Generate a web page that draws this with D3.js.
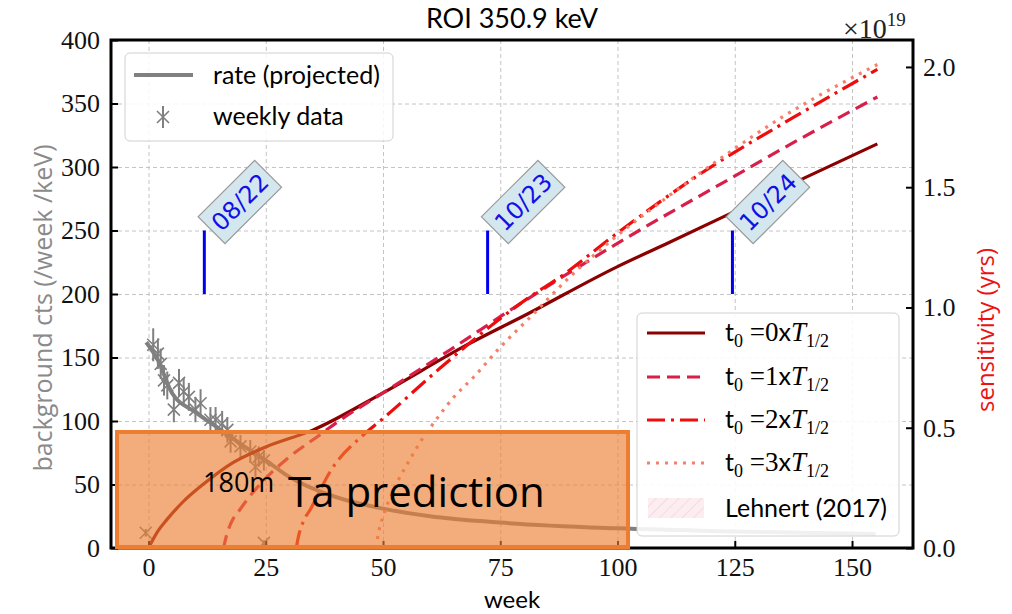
<!DOCTYPE html>
<html>
<head>
<meta charset="utf-8">
<script src="https://cdn.jsdelivr.net/npm/d3@7"></script>
<style>
    body { margin: 0; background: #fff; }
    svg { display: block; }
    .tick text { font-family: "Liberation Serif", serif; font-size: 26px; fill: #111; }
    .grid line { stroke: #c4c4c4; stroke-dasharray: 4 3; stroke-width: 1; }
    .grid path { display: none; }
    .axis path { display: none; }
    .axis line { stroke: #000; stroke-width: 2; }
</style>
</head>
<body>
<svg id="chart" width="1012" height="614"></svg>
<script>
// Weekly background data (week, counts, error)
var weeklyWeeks = [-0.6, 1, 2, 2.6, 3.3, 4, 5.4, 6.5, 7.5, 8.6, 10, 11.1, 13.2, 14.3, 15.7, 16.8, 17.5, 19.6, 21.7, 22.8, 23.5, 24.6, 24.6];
var weeklyCounts = [12, 160, 153, 145, 132, 128, 109, 130, 123, 119, 109, 114, 101, 101, 98, 93, 84, 80, 76, 64, 72, 69, 4];
var weeklyErrors = [3, 13, 12, 12, 12, 11, 10, 11, 11, 11, 10, 11, 10, 10, 10, 10, 9, 9, 9, 8, 8, 8, 2];

// Projected rate
var rateWeeks = [-0.5, 2, 5, 10, 15, 20, 25, 30, 40, 50, 60, 75, 100, 125, 155];
var rateCounts = [162, 148, 122, 107, 94, 81, 69, 56, 40, 31, 25, 20, 15.5, 13, 11];

// Sensitivity curves (x 10^19 yrs)
var sens0Weeks = [0, 2, 4, 7, 12, 18, 25, 35, 50, 67, 81, 100, 111, 124, 140, 155.4];
var sens0Values = [0, 0.07, 0.12, 0.185, 0.27, 0.355, 0.42, 0.49, 0.645, 0.835, 0.975, 1.17, 1.27, 1.39, 1.54, 1.68];
var sens1Weeks = [16, 16.6, 17.5, 19.5, 24.5, 29.5, 36.5, 40, 50, 64, 78, 88.5, 102, 123.5, 137, 155.4];
var sens1Values = [0, 0.05, 0.1, 0.16, 0.28, 0.37, 0.47, 0.52, 0.645, 0.82, 1.0, 1.13, 1.29, 1.53, 1.68, 1.875];
var sens2Weeks = [31.5, 32, 33, 34.5, 38.8, 45.8, 49.5, 62, 74.4, 81, 88, 100, 118, 137.5, 155.4];
var sens2Values = [0, 0.05, 0.11, 0.16, 0.32, 0.47, 0.53, 0.745, 0.945, 1.04, 1.13, 1.31, 1.56, 1.79, 1.99];
var sens3Weeks = [48.5, 49, 50, 52.2, 55.2, 58.6, 61, 65, 69.3, 75, 81.4, 90, 100, 110, 122, 135, 155.4];
var sens3Values = [0, 0.06, 0.13, 0.24, 0.35, 0.46, 0.525, 0.625, 0.71, 0.835, 0.96, 1.13, 1.3, 1.45, 1.62, 1.79, 2.01];
var sensLabels = ["0", "1", "2", "3"];

// Lehnert (2017) limit band
var lehnertBand = [0, 0.005];

// Date markers
var dateWeeks = [11.9, 72.3, 124.5];
var dateLabels = ["08/22", "10/23", "10/24"];

// Tick values
var xTicks = [0, 25, 50, 75, 100, 125, 150];
var yLeftTicks = [0, 50, 100, 150, 200, 250, 300, 350, 400];
var yRightTicks = [0, 0.5, 1.0, 1.5, 2.0];

var padding = { top: 40, right: 99, bottom: 66, left: 111 };
var svgWidth = 1012, svgHeight = 614;
var chartRight = svgWidth - padding.right;
var chartBottom = svgHeight - padding.bottom;

var svg = d3.select("#chart");

var xScale = d3.scaleLinear().domain([-8, 163]).range([padding.left, chartRight]);
var yLeft = d3.scaleLinear().domain([0, 400]).range([chartBottom, padding.top]);
var yRight = d3.scaleLinear().domain([0, 2.112]).range([chartBottom, padding.top]);

// Clip for the plotting region
svg.append("defs").append("clipPath").attr("id", "plotClip")
    .append("rect")
    .attr("x", padding.left).attr("y", padding.top)
    .attr("width", chartRight - padding.left).attr("height", chartBottom - padding.top);

// Hatch pattern for Lehnert band
var hatch = svg.select("defs").append("pattern")
    .attr("id", "hatch").attr("width", 8).attr("height", 8)
    .attr("patternUnits", "userSpaceOnUse")
    .attr("patternTransform", "rotate(45)");
hatch.append("rect").attr("width", 8).attr("height", 8).attr("fill", "rgba(220,20,60,0.08)");
hatch.append("line").attr("x1", 0).attr("y1", 0).attr("x2", 0).attr("y2", 8)
    .attr("stroke", "rgba(220,20,60,0.12)").attr("stroke-width", 1.5);

// Vertical gridlines
svg.append("g")
    .attr("class", "grid")
    .attr("transform", `translate(0, ${chartBottom})`)
    .call(d3.axisBottom(xScale).tickValues(xTicks).tickSize(-(chartBottom - padding.top)).tickFormat(""));

// Horizontal gridlines
svg.append("g")
    .attr("class", "grid")
    .attr("transform", `translate(${padding.left}, 0)`)
    .call(d3.axisRight(yLeft).tickValues(yLeftTicks).tickSize(chartRight - padding.left).tickFormat(""));

var plot = svg.append("g").attr("clip-path", "url(#plotClip)");

// Lehnert band
plot.append("rect")
    .attr("x", xScale(-8)).attr("width", xScale(163) - xScale(-8))
    .attr("y", yRight(lehnertBand[1])).attr("height", yRight(lehnertBand[0]) - yRight(lehnertBand[1]))
    .attr("fill", "url(#hatch)");

// Projected rate line
var rateLine = d3.line()
    .x(function(d, i) { return xScale(rateWeeks[i]); })
    .y(function(d) { return yLeft(d); })
    .curve(d3.curveMonotoneX);

plot.append("path")
    .datum(rateCounts)
    .attr("d", rateLine)
    .attr("fill", "none")
    .attr("stroke", "#808080")
    .attr("stroke-width", 4);

// Weekly data with error bars
var weekly = plot.selectAll(".weekly")
    .data(weeklyCounts)
    .enter()
    .append("g")
    .attr("class", "weekly")
    .attr("transform", function(d, i) { return `translate(${xScale(weeklyWeeks[i])}, ${yLeft(d)})`; });

weekly.append("line")
    .attr("x1", 0).attr("x2", 0)
    .attr("y1", function(d, i) { return yLeft(d - weeklyErrors[i]) - yLeft(d); })
    .attr("y2", function(d, i) { return yLeft(d + weeklyErrors[i]) - yLeft(d); })
    .attr("stroke", "#808080").attr("stroke-width", 2);

weekly.append("path")
    .attr("d", "M-6,-6L6,6M-6,6L6,-6")
    .attr("stroke", "#808080").attr("stroke-width", 1.6);

// Sensitivity curves
var sensSeries = [
    { weeks: sens0Weeks, values: sens0Values, color: "#8b0000", dash: null },
    { weeks: sens1Weeks, values: sens1Values, color: "#d81f4a", dash: "13 7" },
    { weeks: sens2Weeks, values: sens2Values, color: "#ee0c0c", dash: "18 6 3 6" },
    { weeks: sens3Weeks, values: sens3Values, color: "#f4806c", dash: "3 6" }
];

sensSeries.forEach(function(series) {
    var line = d3.line()
        .x(function(d, i) { return xScale(series.weeks[i]); })
        .y(function(d) { return yRight(d); })
        .curve(d3.curveMonotoneX);
    plot.append("path")
        .datum(series.values)
        .attr("d", line)
        .attr("fill", "none")
        .attr("stroke", series.color)
        .attr("stroke-width", 3.2)
        .attr("stroke-dasharray", series.dash);
});

// Date markers
dateWeeks.forEach(function(week, i) {
    var lx = xScale(week);
    svg.append("line")
        .attr("x1", lx).attr("x2", lx)
        .attr("y1", yLeft(200)).attr("y2", yLeft(250))
        .attr("stroke", "#0000ee").attr("stroke-width", 3);
    var tag = svg.append("g")
        .attr("transform", `translate(${lx + 35.5}, ${yLeft(250) - 28.5}) rotate(-45)`);
    tag.append("rect")
        .attr("x", -40).attr("y", -19).attr("width", 80).attr("height", 38)
        .attr("fill", "#d4e7ee").attr("stroke", "#9a9a9a").attr("stroke-width", 1.2);
    tag.append("text")
        .attr("text-anchor", "middle").attr("dy", "0.36em")
        .style("font-family", "'DejaVu Sans', sans-serif").style("font-size", "24px")
        .attr("fill", "#1010e8")
        .text(dateLabels[i]);
});

// Draw axes (ticks inward)
svg.append("g")
    .attr("class", "axis")
    .attr("transform", `translate(${padding.left}, 0)`)
    .call(d3.axisLeft(yLeft).tickValues(yLeftTicks).tickSize(-7).tickPadding(11));

svg.append("g")
    .attr("class", "axis")
    .attr("transform", `translate(${chartRight}, 0)`)
    .call(d3.axisRight(yRight).tickValues(yRightTicks).tickFormat(d3.format(".1f")).tickSize(-7).tickPadding(10));

svg.append("g")
    .attr("class", "axis")
    .attr("transform", `translate(0, ${chartBottom})`)
    .call(d3.axisBottom(xScale).tickValues(xTicks).tickSize(-7).tickPadding(10));

// Spines
svg.append("rect")
    .attr("x", padding.left).attr("y", padding.top)
    .attr("width", chartRight - padding.left).attr("height", chartBottom - padding.top)
    .attr("fill", "none").attr("stroke", "#000").attr("stroke-width", 3);

// Title
svg.append("text")
    .attr("x", (padding.left + chartRight) / 2).attr("y", 28)
    .attr("text-anchor", "middle")
    .style("font-family", "Lato, sans-serif").style("font-size", "27px")
    .text("ROI 350.9 keV");

// Offset text on right axis
var offset = svg.append("text")
    .attr("x", 843).attr("y", 38)
    .style("font-family", "'Liberation Serif', serif").style("font-size", "28px")
    .attr("fill", "#222");
offset.append("tspan").text("\u00d710");
offset.append("tspan").attr("dy", -12).style("font-size", "19px").text("19");

// Axis labels
svg.append("text")
    .attr("transform", `translate(52, 308) rotate(-90)`)
    .attr("text-anchor", "middle")
    .style("font-family", "'Open Sans', sans-serif").style("font-size", "25px")
    .attr("fill", "#8a8a8a")
    .text("background cts (/week /keV)");

svg.append("text")
    .attr("transform", `translate(994, 330) rotate(-90)`)
    .attr("text-anchor", "middle")
    .style("font-family", "'Open Sans', sans-serif").style("font-size", "24px")
    .attr("fill", "#ee1111")
    .text("sensitivity (yrs)");

svg.append("text")
    .attr("x", (padding.left + chartRight) / 2).attr("y", 608)
    .attr("text-anchor", "middle")
    .style("font-family", "Lato, sans-serif").style("font-size", "24px")
    .text("week");

// Upper legend
var legendTop = svg.append("g");
legendTop.append("rect")
    .attr("x", 125).attr("y", 53).attr("width", 268).attr("height", 88).attr("rx", 5)
    .attr("fill", "rgba(255,255,255,0.85)").attr("stroke", "#d0d0d0");
legendTop.append("line")
    .attr("x1", 134).attr("x2", 193).attr("y1", 75).attr("y2", 75)
    .attr("stroke", "#808080").attr("stroke-width", 4);
legendTop.append("line")
    .attr("x1", 163).attr("x2", 163).attr("y1", 106).attr("y2", 128)
    .attr("stroke", "#808080").attr("stroke-width", 2);
legendTop.append("path")
    .attr("transform", "translate(163, 117)")
    .attr("d", "M-6,-6L6,6M-6,6L6,-6")
    .attr("stroke", "#808080").attr("stroke-width", 1.6);
legendTop.append("text").attr("x", 213).attr("y", 84)
    .style("font-family", "Lato, sans-serif").style("font-size", "25px")
    .text("rate (projected)");
legendTop.append("text").attr("x", 213).attr("y", 125)
    .style("font-family", "Lato, sans-serif").style("font-size", "25px")
    .text("weekly data");

// Lower legend
var legendBottom = svg.append("g");
legendBottom.append("rect")
    .attr("x", 637).attr("y", 313).attr("width", 262).attr("height", 223).attr("rx", 5)
    .attr("fill", "rgba(255,255,255,0.88)").attr("stroke", "#d0d0d0");

var legendRows = [333, 377, 420, 463];
sensSeries.forEach(function(series, i) {
    legendBottom.append("line")
        .attr("x1", 647).attr("x2", 705).attr("y1", legendRows[i]).attr("y2", legendRows[i])
        .attr("stroke", series.color).attr("stroke-width", 3.2)
        .attr("stroke-dasharray", series.dash);
    var label = legendBottom.append("text")
        .attr("x", 725).attr("y", legendRows[i] + 8)
        .style("font-family", "Lato, sans-serif").style("font-size", "25px");
    label.append("tspan").text("t");
    label.append("tspan").attr("dy", 6).style("font-family", "'Liberation Serif', serif").style("font-size", "18px").text("0");
    label.append("tspan").attr("dy", -6).style("font-family", "'Liberation Serif', serif").style("font-size", "27px").text(" =" + sensLabels[i]);
    label.append("tspan").text("x");
    label.append("tspan").style("font-family", "'Liberation Serif', serif").style("font-size", "27px").style("font-style", "italic").text("T");
    label.append("tspan").attr("dy", 6).style("font-family", "'Liberation Serif', serif").style("font-size", "18px").text("1/2");
});
legendBottom.append("rect")
    .attr("x", 648).attr("y", 498).attr("width", 56).attr("height", 20)
    .attr("fill", "url(#hatch)");
legendBottom.append("text")
    .attr("x", 725).attr("y", 517)
    .style("font-family", "Lato, sans-serif").style("font-size", "25px")
    .text("Lehnert (2017)");

// 180mTa prediction box
svg.append("rect")
    .attr("x", 117).attr("y", 432).attr("width", 511).attr("height", 115)
    .attr("fill", "rgba(237,125,49,0.64)")
    .attr("stroke", "#ed7d31").attr("stroke-width", 4);

var prediction = svg.append("text")
    .attr("x", 203).attr("y", 507)
    .style("font-family", "'Open Sans', sans-serif")
    .attr("fill", "#000");
prediction.append("tspan").attr("dy", -15).style("font-size", "27px").text("180m");
prediction.append("tspan").attr("x", 288).attr("dy", 15).style("font-size", "42px").text("Ta prediction");
</script>
</body>
</html>
